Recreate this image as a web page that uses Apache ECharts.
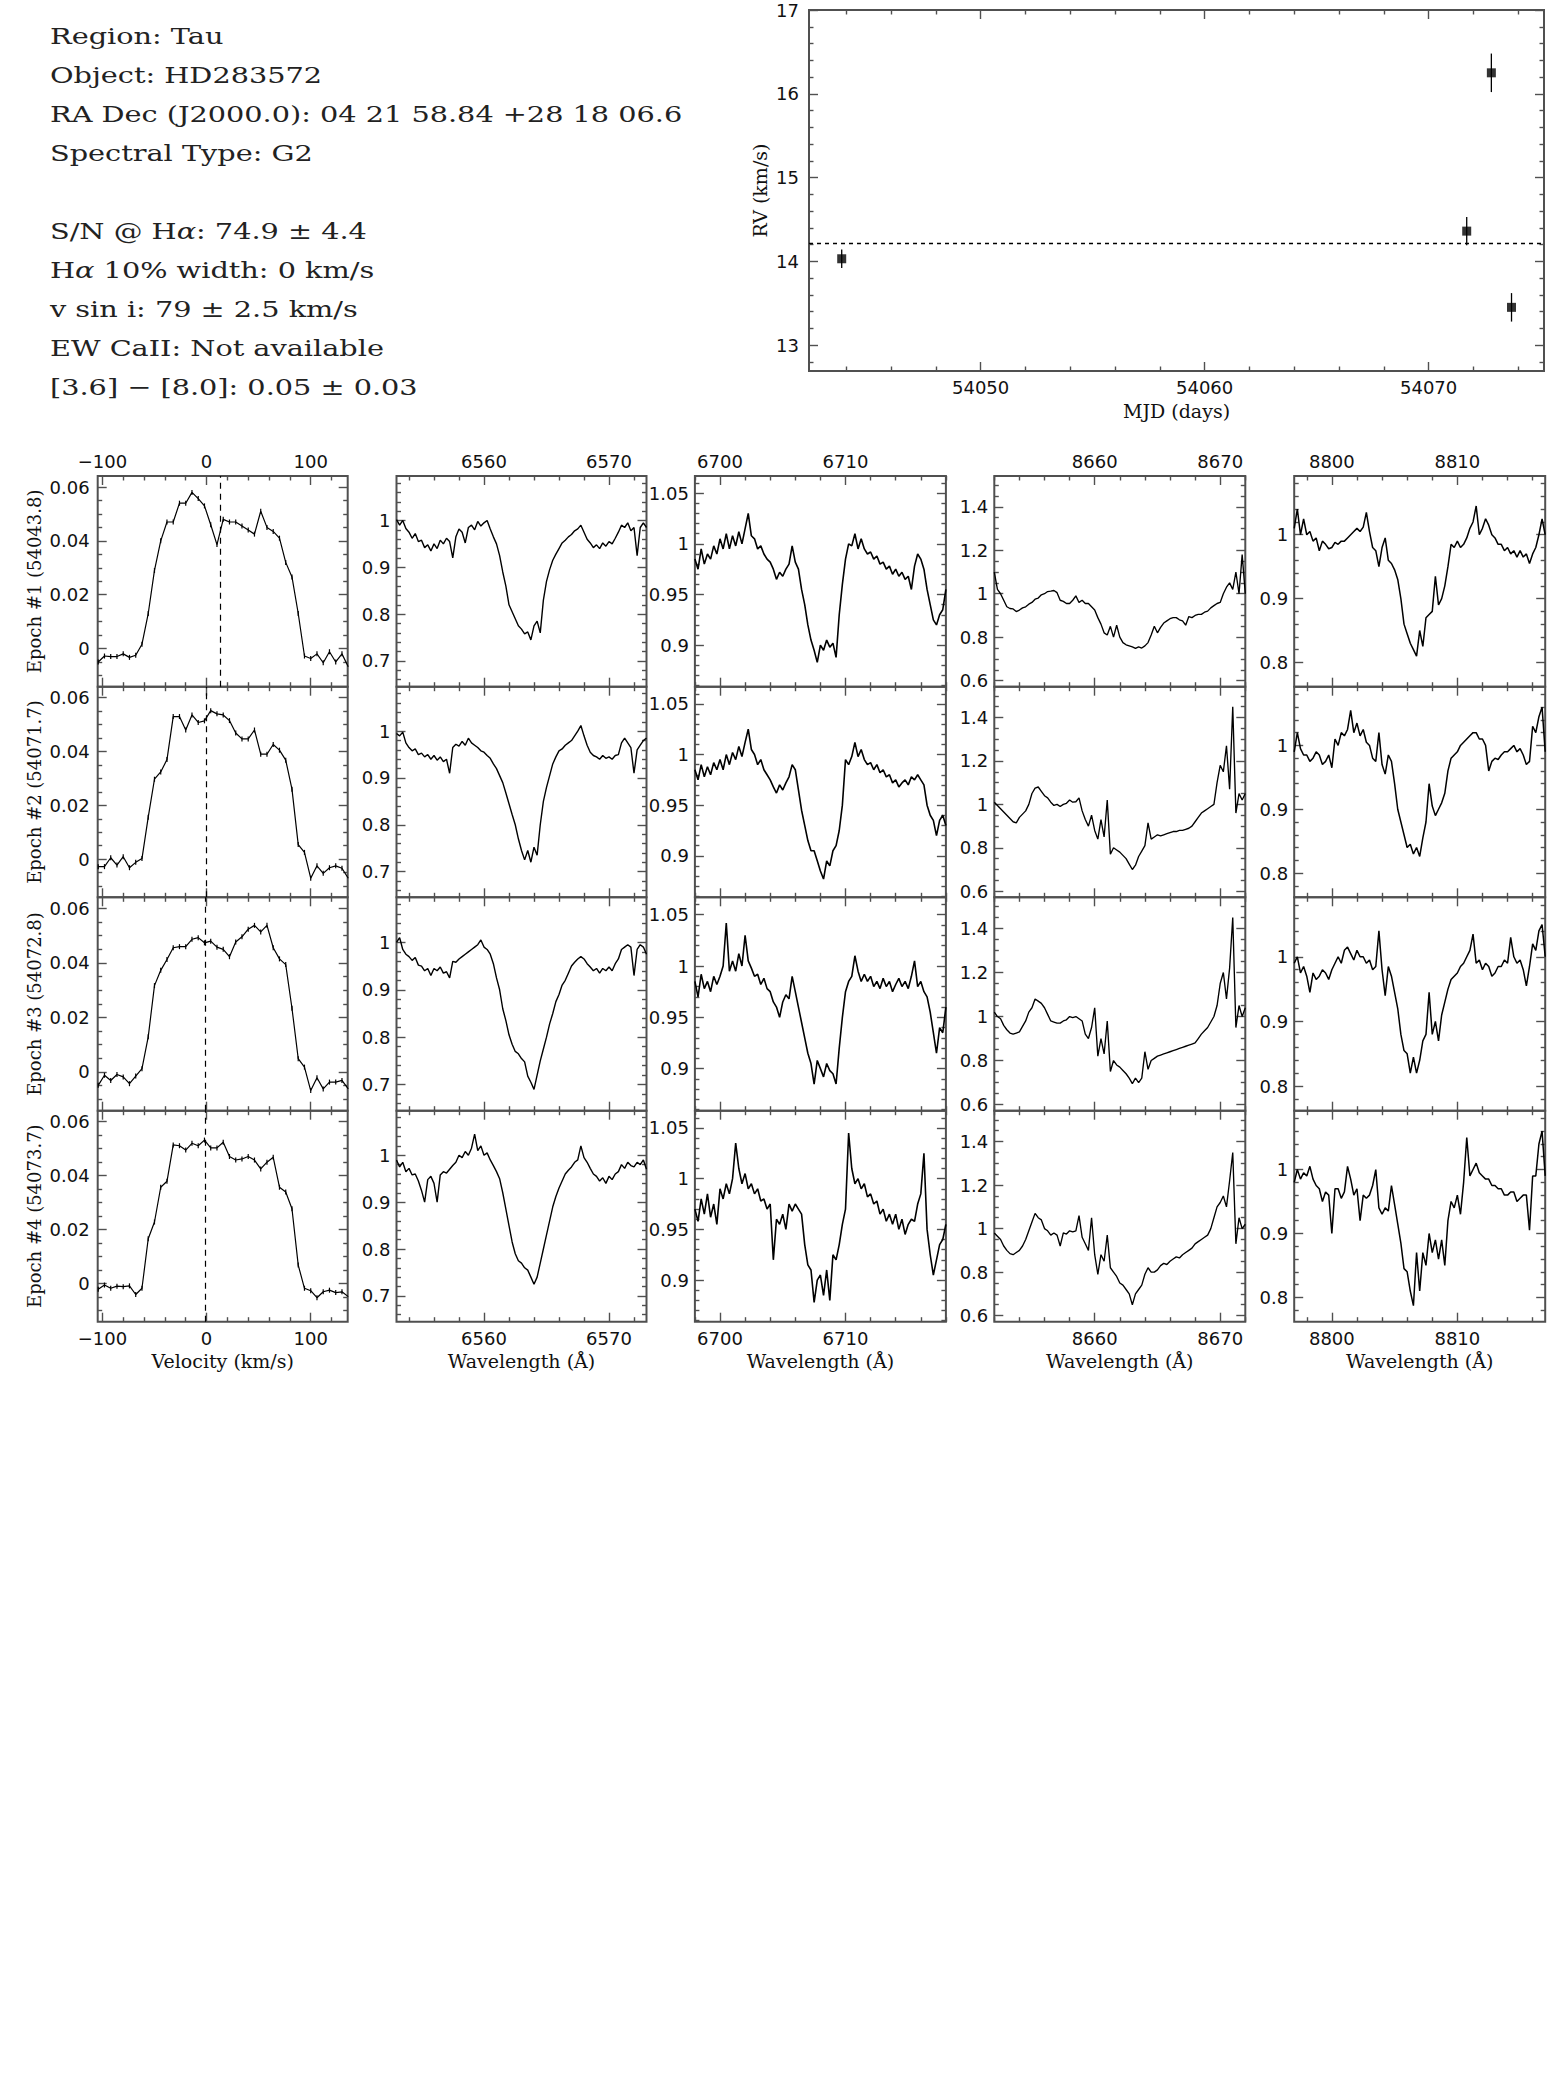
<!DOCTYPE html>
<html><head><meta charset="utf-8">
<script src="https://cdn.jsdelivr.net/npm/echarts@6/dist/echarts.min.js"></script>
<style>html,body{margin:0;padding:0;background:#fff}#c{width:1547px;height:2075px}</style>
</head><body><div id="c"></div>
<script>
// ---------------- DATA ----------------
const INFO_LINES = ['Region: Tau','Object: HD283572','RA Dec (J2000.0): 04 21 58.84 +28 18 06.6','Spectral Type: G2',
  'S/N @ H{a|α}: 74.9 ± 4.4','H{a|α} 10% width: 0 km/s','v sin i: 79 ± 2.5 km/s','EW CaII: Not available','[3.6] − [8.0]: 0.05 ± 0.03'];

const RV_MJD = [54043.8, 54071.7, 54072.8, 54073.7];
const RV_VAL = [14.03, 14.36, 16.25, 13.45];
const RV_ERR = [0.11, 0.17, 0.23, 0.17];
const RV_MEAN = 14.22;
const RV_X_TICKS = [54050, 54060, 54070];
const RV_Y_TICKS = [13, 14, 15, 16, 17];

const EPOCH_LABELS = ['Epoch #1 (54043.8)','Epoch #2 (54071.7)','Epoch #3 (54072.8)','Epoch #4 (54073.7)'];
const PROF_CENTER = [13.5, -0.3, -1.0, -1.5];

const VEL = [-104,-98,-92,-86,-80,-74,-68,-62,-56,-50,-44,-38,-32,-26,-20,-14,-8,-2,4,10,16,22,28,34,40,46,52,58,64,70,76,82,88,94,100,106,112,118,124,130,136];
const PROF1 = [-0.005,-0.0028,-0.003,-0.003,-0.002,-0.0033,-0.0025,0.0016,0.013,0.029,0.040,0.047,0.047,0.054,0.054,0.058,0.0557,0.053,0.046,0.0386,0.048,0.047,0.047,0.0455,0.044,0.0425,0.051,0.045,0.0435,0.041,0.032,0.0266,0.013,-0.0028,-0.0037,-0.002,-0.0053,-0.0012,-0.005,-0.002,-0.0068];
const PROF2 = [-0.0028,-0.0028,0.0005,-0.0022,0.0009,-0.0032,-0.0012,0.0002,0.0156,0.0297,0.0324,0.037,0.053,0.053,0.048,0.0536,0.0508,0.0514,0.0552,0.054,0.0536,0.0515,0.0469,0.0447,0.0447,0.048,0.039,0.039,0.0426,0.0405,0.0368,0.026,0.0054,0.0025,-0.0071,-0.0025,-0.0053,-0.0032,-0.0025,-0.0034,-0.0071];
const PROF3 = [-0.0049,-0.0012,-0.0031,-0.0009,-0.0018,-0.0043,-0.0015,0.0012,0.0129,0.0317,0.0373,0.0413,0.0456,0.046,0.046,0.0487,0.0493,0.0474,0.048,0.0458,0.045,0.0423,0.0477,0.0496,0.0524,0.0538,0.0514,0.0538,0.0456,0.0415,0.0394,0.0234,0.0049,0.0018,-0.0068,-0.0021,-0.0062,-0.0037,-0.0037,-0.0031,-0.0062];
const PROF4 = [-0.0022,-0.0006,-0.0018,-0.001,-0.0012,-0.0009,-0.0041,-0.0018,0.0166,0.0228,0.0357,0.0379,0.0514,0.0511,0.0495,0.052,0.0511,0.0532,0.0503,0.0503,0.0524,0.0471,0.0458,0.0462,0.0471,0.0458,0.0425,0.045,0.0468,0.0357,0.0339,0.0277,0.0068,-0.0018,-0.0027,-0.0053,-0.0031,-0.0025,-0.0034,-0.0031,-0.0049];
const VEL_TICKS = [-100, 0, 100];
const PROF_Y_TICKS = [0, 0.02, 0.04, 0.06];

const WL_HA = [6553,6553.25,6553.5,6553.75,6554,6554.25,6554.5,6554.75,6555,6555.25,6555.5,6555.75,6556,6556.25,6556.5,6556.75,6557,6557.25,6557.5,6557.75,6558,6558.25,6558.5,6558.75,6559,6559.25,6559.5,6559.75,6560,6560.25,6560.5,6560.75,6561,6561.25,6561.5,6561.75,6562,6562.25,6562.5,6562.75,6563,6563.25,6563.5,6563.75,6564,6564.25,6564.5,6564.75,6565,6565.25,6565.5,6565.75,6566,6566.25,6566.5,6566.75,6567,6567.25,6567.5,6567.75,6568,6568.25,6568.5,6568.75,6569,6569.25,6569.5,6569.75,6570,6570.25,6570.5,6570.75,6571,6571.25,6571.5,6571.75,6572,6572.25,6572.5,6572.75,6573];
const HA1 = [1.002,0.99,1.0,0.983,0.975,0.962,0.972,0.955,0.958,0.942,0.948,0.935,0.95,0.94,0.958,0.95,0.962,0.955,0.92,0.965,0.982,0.975,0.952,0.985,0.99,0.98,0.998,0.988,0.995,1.0,0.982,0.965,0.95,0.925,0.89,0.86,0.82,0.805,0.79,0.775,0.768,0.758,0.762,0.745,0.775,0.785,0.76,0.83,0.87,0.895,0.915,0.928,0.94,0.952,0.958,0.965,0.97,0.978,0.982,0.99,0.975,0.96,0.952,0.942,0.948,0.94,0.952,0.945,0.955,0.95,0.962,0.975,0.99,0.985,0.995,0.978,0.985,0.925,0.985,0.995,0.985];
const HA2 = [0.995,0.99,0.998,0.975,0.965,0.958,0.962,0.95,0.953,0.945,0.95,0.94,0.948,0.938,0.945,0.935,0.94,0.91,0.965,0.972,0.968,0.978,0.97,0.985,0.975,0.97,0.965,0.958,0.955,0.948,0.942,0.93,0.92,0.905,0.89,0.868,0.845,0.822,0.8,0.77,0.745,0.725,0.745,0.72,0.752,0.735,0.8,0.85,0.88,0.905,0.93,0.945,0.958,0.962,0.97,0.975,0.98,0.99,1.0,1.012,0.99,0.97,0.955,0.948,0.945,0.94,0.948,0.942,0.945,0.94,0.948,0.95,0.975,0.985,0.975,0.965,0.91,0.96,0.97,0.98,0.985];
const HA3 = [1.0,1.01,0.985,0.975,0.97,0.962,0.968,0.952,0.95,0.94,0.945,0.93,0.945,0.94,0.948,0.935,0.938,0.925,0.96,0.958,0.965,0.97,0.975,0.98,0.985,0.99,0.995,1.005,0.99,0.985,0.975,0.955,0.925,0.9,0.86,0.835,0.805,0.785,0.77,0.765,0.755,0.748,0.718,0.705,0.69,0.72,0.75,0.775,0.8,0.828,0.85,0.875,0.89,0.91,0.92,0.935,0.95,0.958,0.965,0.97,0.965,0.955,0.948,0.94,0.945,0.935,0.945,0.94,0.948,0.94,0.955,0.965,0.985,0.99,0.995,0.99,0.93,0.985,0.995,0.99,0.975];
const HA4 = [0.99,0.975,0.985,0.965,0.972,0.958,0.96,0.945,0.925,0.9,0.948,0.955,0.94,0.9,0.958,0.965,0.962,0.97,0.978,0.985,1.0,0.995,1.008,1.0,1.015,1.045,1.01,1.02,1.0,1.005,0.99,0.978,0.965,0.95,0.92,0.885,0.85,0.815,0.79,0.775,0.77,0.76,0.755,0.74,0.725,0.74,0.77,0.8,0.83,0.86,0.89,0.912,0.93,0.945,0.96,0.968,0.975,0.985,0.99,1.02,0.995,0.985,0.972,0.96,0.955,0.945,0.952,0.94,0.955,0.948,0.96,0.965,0.98,0.972,0.985,0.978,0.975,0.985,0.98,0.99,0.97];
const HA_X_TICKS = [6560, 6570];
const HA_Y_TICKS = [0.7, 0.8, 0.9, 1];

const WL_LI = [6698,6698.25,6698.5,6698.75,6699,6699.25,6699.5,6699.75,6700,6700.25,6700.5,6700.75,6701,6701.25,6701.5,6701.75,6702,6702.25,6702.5,6702.75,6703,6703.25,6703.5,6703.75,6704,6704.25,6704.5,6704.75,6705,6705.25,6705.5,6705.75,6706,6706.25,6706.5,6706.75,6707,6707.25,6707.5,6707.75,6708,6708.25,6708.5,6708.75,6709,6709.25,6709.5,6709.75,6710,6710.25,6710.5,6710.75,6711,6711.25,6711.5,6711.75,6712,6712.25,6712.5,6712.75,6713,6713.25,6713.5,6713.75,6714,6714.25,6714.5,6714.75,6715,6715.25,6715.5,6715.75,6716,6716.25,6716.5,6716.75,6717,6717.25,6717.5,6717.75,6718];
const LI1 = [0.985,0.975,0.995,0.98,0.99,0.985,0.998,0.99,1.005,0.995,1.01,0.995,1.008,0.998,1.012,1.0,1.015,1.03,1.008,1.005,0.995,0.998,0.99,0.985,0.982,0.975,0.965,0.972,0.968,0.975,0.98,0.998,0.982,0.975,0.955,0.94,0.92,0.905,0.895,0.883,0.9,0.895,0.905,0.898,0.902,0.888,0.93,0.96,0.985,1.0,0.998,1.01,0.995,1.005,0.995,0.99,0.992,0.985,0.988,0.98,0.982,0.975,0.978,0.97,0.975,0.968,0.972,0.965,0.968,0.955,0.978,0.99,0.985,0.975,0.955,0.94,0.925,0.92,0.93,0.935,0.955];
const LI2 = [0.985,0.975,0.99,0.978,0.988,0.98,0.992,0.985,0.995,0.985,1.0,0.99,1.002,0.995,1.008,0.998,1.012,1.025,1.005,1.0,0.99,0.995,0.985,0.98,0.975,0.968,0.962,0.97,0.965,0.972,0.978,0.99,0.985,0.965,0.945,0.93,0.915,0.905,0.905,0.895,0.885,0.877,0.895,0.89,0.905,0.91,0.925,0.95,0.995,0.99,0.998,1.012,0.998,1.005,0.995,0.99,0.992,0.985,0.99,0.982,0.985,0.978,0.98,0.972,0.975,0.968,0.972,0.975,0.97,0.978,0.975,0.98,0.975,0.97,0.95,0.94,0.935,0.92,0.935,0.94,0.93];
const LI3 = [0.985,0.97,0.992,0.978,0.985,0.975,0.99,0.982,0.99,1.0,1.042,0.995,1.005,0.995,1.012,1.0,1.03,1.005,0.998,0.99,0.992,0.982,0.988,0.978,0.975,0.965,0.96,0.95,0.965,0.972,0.968,0.99,0.975,0.96,0.945,0.93,0.915,0.905,0.885,0.908,0.9,0.892,0.905,0.898,0.895,0.885,0.92,0.95,0.975,0.985,0.99,1.01,0.995,0.985,0.992,0.985,0.99,0.98,0.985,0.978,0.988,0.98,0.985,0.975,0.982,0.988,0.98,0.985,0.978,0.99,1.005,0.98,0.985,0.975,0.97,0.955,0.935,0.915,0.94,0.935,0.96];
const LI4 = [0.97,0.958,0.98,0.965,0.985,0.962,0.975,0.955,0.99,0.98,0.995,0.985,1.0,1.035,1.01,0.995,1.005,0.99,0.995,0.985,0.99,0.978,0.98,0.97,0.975,0.92,0.96,0.955,0.965,0.95,0.975,0.968,0.975,0.97,0.965,0.935,0.915,0.91,0.878,0.9,0.905,0.885,0.91,0.88,0.925,0.92,0.935,0.955,0.97,1.045,1.01,0.995,1.0,0.99,0.995,0.982,0.985,0.975,0.978,0.965,0.97,0.958,0.965,0.955,0.965,0.95,0.96,0.945,0.955,0.96,0.958,0.975,0.985,1.025,0.95,0.925,0.905,0.92,0.935,0.94,0.955];
const LI_X_TICKS = [6700, 6710];
const LI_Y_TICKS = [0.9, 0.95, 1, 1.05];

const WL_CA = [8652,8652.25,8652.5,8652.75,8653,8653.25,8653.5,8653.75,8654,8654.25,8654.5,8654.75,8655,8655.25,8655.5,8655.75,8656,8656.25,8656.5,8656.75,8657,8657.25,8657.5,8657.75,8658,8658.25,8658.5,8658.75,8659,8659.25,8659.5,8659.75,8660,8660.25,8660.5,8660.75,8661,8661.25,8661.5,8661.75,8662,8662.25,8662.5,8662.75,8663,8663.25,8663.5,8663.75,8664,8664.25,8664.5,8664.75,8665,8665.25,8665.5,8665.75,8666,8666.25,8666.5,8666.75,8667,8667.25,8667.5,8667.75,8668,8668.25,8668.5,8668.75,8669,8669.25,8669.5,8669.75,8670,8670.25,8670.5,8670.75,8671,8671.25,8671.5,8671.75,8672];
const CA1 = [1.1,1.02,1.0,0.97,0.94,0.932,0.93,0.918,0.925,0.935,0.94,0.952,0.96,0.975,0.98,0.995,1.0,1.01,1.012,1.015,1.005,0.97,0.965,0.955,0.955,0.97,0.99,0.96,0.97,0.955,0.955,0.94,0.925,0.89,0.86,0.82,0.81,0.85,0.8,0.855,0.8,0.775,0.765,0.76,0.755,0.748,0.755,0.75,0.76,0.775,0.81,0.85,0.82,0.845,0.865,0.875,0.885,0.89,0.89,0.88,0.875,0.855,0.895,0.89,0.9,0.905,0.905,0.915,0.92,0.935,0.945,0.955,0.96,1.0,1.03,1.05,1.02,1.1,1.0,1.18,1.0];
const CA2 = [1.01,0.995,0.98,0.965,0.95,0.935,0.92,0.915,0.94,0.955,0.97,1.0,1.05,1.075,1.08,1.06,1.04,1.03,1.01,0.995,1.0,0.99,1.0,1.005,1.02,1.01,1.012,1.03,0.97,0.93,0.9,0.95,0.88,0.84,0.93,0.85,1.02,0.77,0.8,0.79,0.78,0.765,0.75,0.725,0.7,0.72,0.76,0.785,0.81,0.915,0.84,0.85,0.86,0.855,0.86,0.865,0.87,0.875,0.875,0.88,0.88,0.885,0.89,0.9,0.92,0.94,0.96,0.97,0.98,0.99,1.0,1.1,1.18,1.15,1.27,1.07,1.45,0.96,1.05,1.02,1.05];
const CA3 = [1.02,1.0,0.99,0.96,0.94,0.925,0.92,0.925,0.93,0.955,0.98,1.02,1.04,1.08,1.07,1.06,1.04,1.01,0.98,0.975,0.97,0.97,0.98,0.985,1.0,0.995,1.0,0.99,0.98,0.92,0.9,0.95,1.04,0.82,0.9,0.83,0.98,0.75,0.8,0.78,0.77,0.755,0.74,0.72,0.695,0.72,0.7,0.72,0.84,0.76,0.8,0.81,0.82,0.825,0.83,0.835,0.84,0.845,0.85,0.855,0.86,0.865,0.87,0.875,0.88,0.9,0.92,0.935,0.95,0.975,1.0,1.05,1.15,1.2,1.08,1.22,1.45,0.95,1.05,1.0,1.04];
const CA4 = [0.98,0.965,0.95,0.92,0.9,0.885,0.88,0.89,0.9,0.92,0.95,0.99,1.03,1.07,1.05,1.04,1.0,0.99,0.97,0.98,0.97,0.92,0.98,0.975,0.99,0.985,0.99,1.06,0.96,0.93,0.9,1.05,0.88,0.79,0.88,0.85,0.97,0.82,0.8,0.78,0.75,0.74,0.72,0.7,0.65,0.7,0.72,0.74,0.79,0.82,0.8,0.8,0.81,0.83,0.84,0.835,0.85,0.86,0.87,0.865,0.88,0.89,0.9,0.91,0.93,0.94,0.95,0.96,0.97,1.0,1.05,1.1,1.12,1.15,1.1,1.22,1.35,0.93,1.05,1.0,1.02];
const CA_X_TICKS = [8660, 8670];
const CA_Y_TICKS = [0.6, 0.8, 1, 1.2, 1.4];

const WL_C5 = [8797,8797.25,8797.5,8797.75,8798,8798.25,8798.5,8798.75,8799,8799.25,8799.5,8799.75,8800,8800.25,8800.5,8800.75,8801,8801.25,8801.5,8801.75,8802,8802.25,8802.5,8802.75,8803,8803.25,8803.5,8803.75,8804,8804.25,8804.5,8804.75,8805,8805.25,8805.5,8805.75,8806,8806.25,8806.5,8806.75,8807,8807.25,8807.5,8807.75,8808,8808.25,8808.5,8808.75,8809,8809.25,8809.5,8809.75,8810,8810.25,8810.5,8810.75,8811,8811.25,8811.5,8811.75,8812,8812.25,8812.5,8812.75,8813,8813.25,8813.5,8813.75,8814,8814.25,8814.5,8814.75,8815,8815.25,8815.5,8815.75,8816,8816.25,8816.5,8816.75,8817];
const C51 = [1.01,1.04,1.0,1.025,1.0,1.005,0.99,0.995,0.975,0.99,0.985,0.978,0.98,0.988,0.985,0.99,0.99,0.995,1.0,1.005,1.01,1.005,1.012,1.035,1.005,0.98,0.975,0.95,0.98,0.995,0.96,0.955,0.945,0.93,0.9,0.86,0.845,0.83,0.82,0.81,0.85,0.825,0.87,0.875,0.88,0.935,0.89,0.9,0.92,0.95,0.985,0.98,0.99,0.98,0.985,0.995,1.01,1.02,1.045,1.0,1.01,1.025,1.015,1.0,0.995,0.985,0.985,0.975,0.98,0.97,0.975,0.965,0.975,0.965,0.97,0.955,0.97,0.98,1.0,1.025,1.0];
const C52 = [0.99,1.02,0.995,0.985,0.985,0.975,0.98,0.99,0.985,0.97,0.975,0.985,0.965,1.01,1.0,1.02,1.015,1.025,1.055,1.02,1.035,1.015,1.025,1.005,1.0,0.98,0.975,1.02,0.97,0.955,0.985,0.975,0.94,0.9,0.88,0.86,0.84,0.845,0.83,0.84,0.826,0.855,0.88,0.94,0.905,0.89,0.9,0.91,0.925,0.96,0.98,0.985,0.99,1.0,1.005,1.01,1.015,1.02,1.02,1.01,1.01,1.0,0.96,0.975,0.98,0.978,0.985,0.99,0.99,0.995,1.0,0.99,0.995,0.985,0.97,0.975,1.03,1.02,1.045,1.06,0.99];
const C53 = [0.99,1.0,0.975,0.985,0.97,0.945,0.975,0.965,0.97,0.98,0.975,0.965,0.98,0.99,1.0,0.99,1.01,1.015,1.005,0.995,1.01,1.0,1.0,0.99,0.995,0.98,0.985,1.04,0.98,0.94,0.985,0.97,0.945,0.92,0.88,0.855,0.85,0.82,0.845,0.82,0.84,0.87,0.88,0.945,0.88,0.9,0.87,0.91,0.93,0.95,0.965,0.97,0.975,0.985,0.99,1.0,1.01,1.035,0.99,0.995,0.98,0.99,0.985,0.97,0.975,0.985,0.985,0.995,0.99,1.03,1.0,0.99,0.995,0.98,0.955,0.985,1.02,1.01,1.04,1.05,1.0];
const C54 = [0.98,1.0,0.985,0.995,0.99,1.005,0.985,0.975,0.97,0.95,0.965,0.96,0.9,0.97,0.97,0.955,0.965,1.005,0.985,0.96,0.97,0.92,0.96,0.955,0.96,0.975,1.0,0.94,0.93,0.94,0.935,0.975,0.945,0.915,0.885,0.845,0.84,0.81,0.787,0.87,0.81,0.87,0.85,0.9,0.87,0.89,0.86,0.89,0.85,0.92,0.95,0.94,0.96,0.93,0.98,1.05,0.99,1.0,1.01,0.995,0.99,0.985,0.985,0.975,0.975,0.97,0.97,0.96,0.96,0.965,0.965,0.95,0.955,0.96,0.96,0.905,0.99,0.99,1.04,1.06,0.99];
const C5_X_TICKS = [8800, 8810];
const C5_Y_TICKS = [0.8, 0.9, 1];

// ---------------- LAYOUT / STYLE ----------------
const FONT_NUM = '"DejaVu Sans", sans-serif';
const FONT_TXT = '"DejaVu Serif", serif';
const FRAME = '#505050';
const NUM_SIZE = 18;
const grids = [], xAxes = [], yAxes = [], series = [];

function minorList(min, max, step, majors) {
  const out = [];
  const k0 = Math.ceil(min / step - 1e-9), k1 = Math.floor(max / step + 1e-9);
  for (let k = k0; k <= k1; k++) {
    const v = +(k * step).toFixed(6);
    if (!majors.some(m => Math.abs(m - v) < step * 1e-3)) out.push(v);
  }
  return out;
}
function fmt(v) { return String(+(+v).toFixed(4)).replace('-', '\u2212'); }

function mkAxis(gi, pos, rng, ticks, len, showLabel, margin, name, nameGap, nameSize) {
  const isY = (pos === 'left' || pos === 'right');
  return {
    type: 'value', gridIndex: gi, position: pos, min: rng[0], max: rng[1],
    splitLine: { show: false }, splitArea: { show: false },
    axisLine: { show: false, onZero: false },
    axisTick: { show: true, inside: true, length: len, customValues: ticks, lineStyle: { color: FRAME, width: 1.4 } },
    axisLabel: { show: showLabel, customValues: ticks, margin: margin, formatter: fmt,
      fontFamily: FONT_NUM, fontSize: NUM_SIZE, lineHeight: 14, color: '#111' },
    minorTick: { show: false },
    name: name || '', nameLocation: 'middle', nameGap: nameGap || 0,
    nameRotate: isY ? 90 : 0,
    nameTextStyle: { fontFamily: FONT_TXT, fontSize: nameSize || 18, color: '#111' },
    silent: true
  };
}

function addPanel(p) {
  const gi = grids.length;
  grids.push({ left: p.left, top: p.top, width: p.width, height: p.height, show: true,
    borderColor: FRAME, borderWidth: 2, backgroundColor: 'transparent', containLabel: false, outerBoundsMode: 'none' });
  const xMinor = minorList(p.x[0], p.x[1], p.xStep, p.xMaj);
  const yMinor = minorList(p.y[0], p.y[1], p.yStep, p.yMaj);
  const xi = xAxes.length;
  xAxes.push(mkAxis(gi, 'bottom', p.x, p.xMaj, 9, !!p.bottomLabels, p.bMargin || 10, p.xName, p.xNameGap, 19));
  xAxes.push(mkAxis(gi, 'bottom', p.x, xMinor, 4.5, false, 8));
  xAxes.push(mkAxis(gi, 'top', p.x, p.xMaj, 9, !!p.topLabels, 8));
  xAxes.push(mkAxis(gi, 'top', p.x, xMinor, 4.5, false, 6));
  const yi = yAxes.length;
  yAxes.push(mkAxis(gi, 'left', p.y, p.yMaj, 9, true, p.yMargin, p.yName, p.yNameGap, p.yNameSize || 18));
  yAxes.push(mkAxis(gi, 'left', p.y, yMinor, 4.5, false, 6));
  yAxes.push(mkAxis(gi, 'right', p.y, p.yMaj, 9, false, 6));
  yAxes.push(mkAxis(gi, 'right', p.y, yMinor, 4.5, false, 6));
  return { xi, yi };
}

// RV panel
const rv = addPanel({ left: 809, top: 10, width: 735, height: 361,
  x: [54042.34, 54075.15], xMaj: RV_X_TICKS, xStep: 2,
  y: [12.69, 17.0], yMaj: RV_Y_TICKS, yStep: 0.2, yMargin: 10,
  bottomLabels: true, bMargin: 9, xName: 'MJD (days)', xNameGap: 30, yName: 'RV (km/s)', yNameGap: 40, yNameSize: 19 });
series.push({ type: 'scatter', xAxisIndex: rv.xi, yAxisIndex: rv.yi, symbol: 'rect', symbolSize: 9,
  itemStyle: { color: '#000' }, z: 10, data: RV_MJD.map((m, i) => [m, RV_VAL[i]]),
  markLine: { silent: true, symbol: ['none', 'none'], label: { show: false },
    lineStyle: { color: '#000', width: 1.3, type: [4, 4] }, data: [{ yAxis: RV_MEAN }] } });
series.push({ type: 'custom', xAxisIndex: rv.xi, yAxisIndex: rv.yi, z: 9,
  data: RV_MJD.map((m, i) => [m, RV_VAL[i] - RV_ERR[i], RV_VAL[i] + RV_ERR[i]]),
  renderItem: function (params, api) {
    const a = api.coord([api.value(0), api.value(1)]);
    const b = api.coord([api.value(0), api.value(2)]);
    return { type: 'line', shape: { x1: a[0], y1: a[1], x2: b[0], y2: b[1] }, style: { stroke: '#000', lineWidth: 1.3 } };
  } });

// Spectral grid
const ROWS = [{ top: 476, height: 210.7 }, { top: 686.7, height: 210.6 }, { top: 897.3, height: 213.4 }, { top: 1110.7, height: 211 }];
const COLS = [
  { left: 97.7, width: 250, x: [-104.5, 135.5], xMaj: VEL_TICKS, xStep: 20, y: [-0.0142, 0.0641], yMaj: PROF_Y_TICKS, yStep: 0.005, yMargin: 8,
    xs: VEL, ys: [PROF1, PROF2, PROF3, PROF4], xName: 'Velocity (km/s)', lw: 1.2 },
  { left: 396.5, width: 250, x: [6553, 6573], xMaj: HA_X_TICKS, xStep: 2, y: [0.645, 1.095], yMaj: HA_Y_TICKS, yStep: 0.02, yMargin: 6,
    xs: WL_HA, ys: [HA1, HA2, HA3, HA4], xName: 'Wavelength (Å)', lw: 1.4 },
  { left: 694.9, width: 251, x: [6698, 6718], xMaj: LI_X_TICKS, xStep: 2, y: [0.859, 1.067], yMaj: LI_Y_TICKS, yStep: 0.01, yMargin: 6,
    xs: WL_LI, ys: [LI1, LI2, LI3, LI4], xName: 'Wavelength (Å)', lw: 1.6 },
  { left: 994.3, width: 251, x: [8652, 8672], xMaj: CA_X_TICKS, xStep: 2, y: [0.572, 1.542], yMaj: CA_Y_TICKS, yStep: 0.05, yMargin: 6,
    xs: WL_CA, ys: [CA1, CA2, CA3, CA4], xName: 'Wavelength (Å)', lw: 1.35 },
  { left: 1294.2, width: 251, x: [8797, 8817], xMaj: C5_X_TICKS, xStep: 2, y: [0.762, 1.092], yMaj: C5_Y_TICKS, yStep: 0.02, yMargin: 6,
    xs: WL_C5, ys: [C51, C52, C53, C54], xName: 'Wavelength (Å)', lw: 1.5 }
];

COLS.forEach((c, ci) => {
  ROWS.forEach((r, ri) => {
    const ax = addPanel({ left: c.left, top: r.top, width: c.width, height: r.height,
      x: c.x, xMaj: c.xMaj, xStep: c.xStep, y: c.y, yMaj: c.yMaj, yStep: c.yStep, yMargin: c.yMargin,
      topLabels: ri === 0, bottomLabels: ri === 3, bMargin: 10,
      xName: ri === 3 ? c.xName : '', xNameGap: 30,
      yName: ci === 0 ? EPOCH_LABELS[ri] : '', yNameGap: 54 });
    const ys = c.ys[ri];
    const s = { type: 'line', xAxisIndex: ax.xi, yAxisIndex: ax.yi, data: c.xs.map((x, i) => [x, ys[i]]),
      lineStyle: { color: '#000', width: c.lw }, itemStyle: { color: '#000' }, clip: true, z: 3 };
    if (ci === 0) {
      s.symbol = 'rect'; s.symbolSize = [1.2, 5]; s.showSymbol = true; s.showAllSymbol = true;
      s.markLine = { silent: true, symbol: ['none', 'none'], label: { show: false },
        lineStyle: { color: '#000', width: 1.2, type: [6, 5] }, data: [{ xAxis: PROF_CENTER[ri] }] };
    } else {
      s.symbol = 'none'; s.showSymbol = false;
    }
    series.push(s);
  });
});

// Info text block
const INFO_Y = [36.5, 75.5, 114.5, 153.5, 231.5, 270.5, 309.5, 348.5, 387.5];
const graphic = INFO_LINES.map((t, i) => ({
  type: 'text', x: 50, y: INFO_Y[i], scaleX: 1.25, silent: true,
  style: { text: t, fontFamily: FONT_TXT, fontSize: 23, fill: '#222', align: 'left', verticalAlign: 'middle',
    rich: { a: { fontFamily: FONT_TXT, fontSize: 23, fontStyle: 'italic', fill: '#222' } } }
}));

const chart = echarts.init(document.getElementById('c'), null, { renderer: 'svg', width: 1547, height: 2075 });
chart.setOption({ backgroundColor: '#fff', animation: false, grid: grids, xAxis: xAxes, yAxis: yAxes, series: series, graphic: graphic });
</script></body></html>
